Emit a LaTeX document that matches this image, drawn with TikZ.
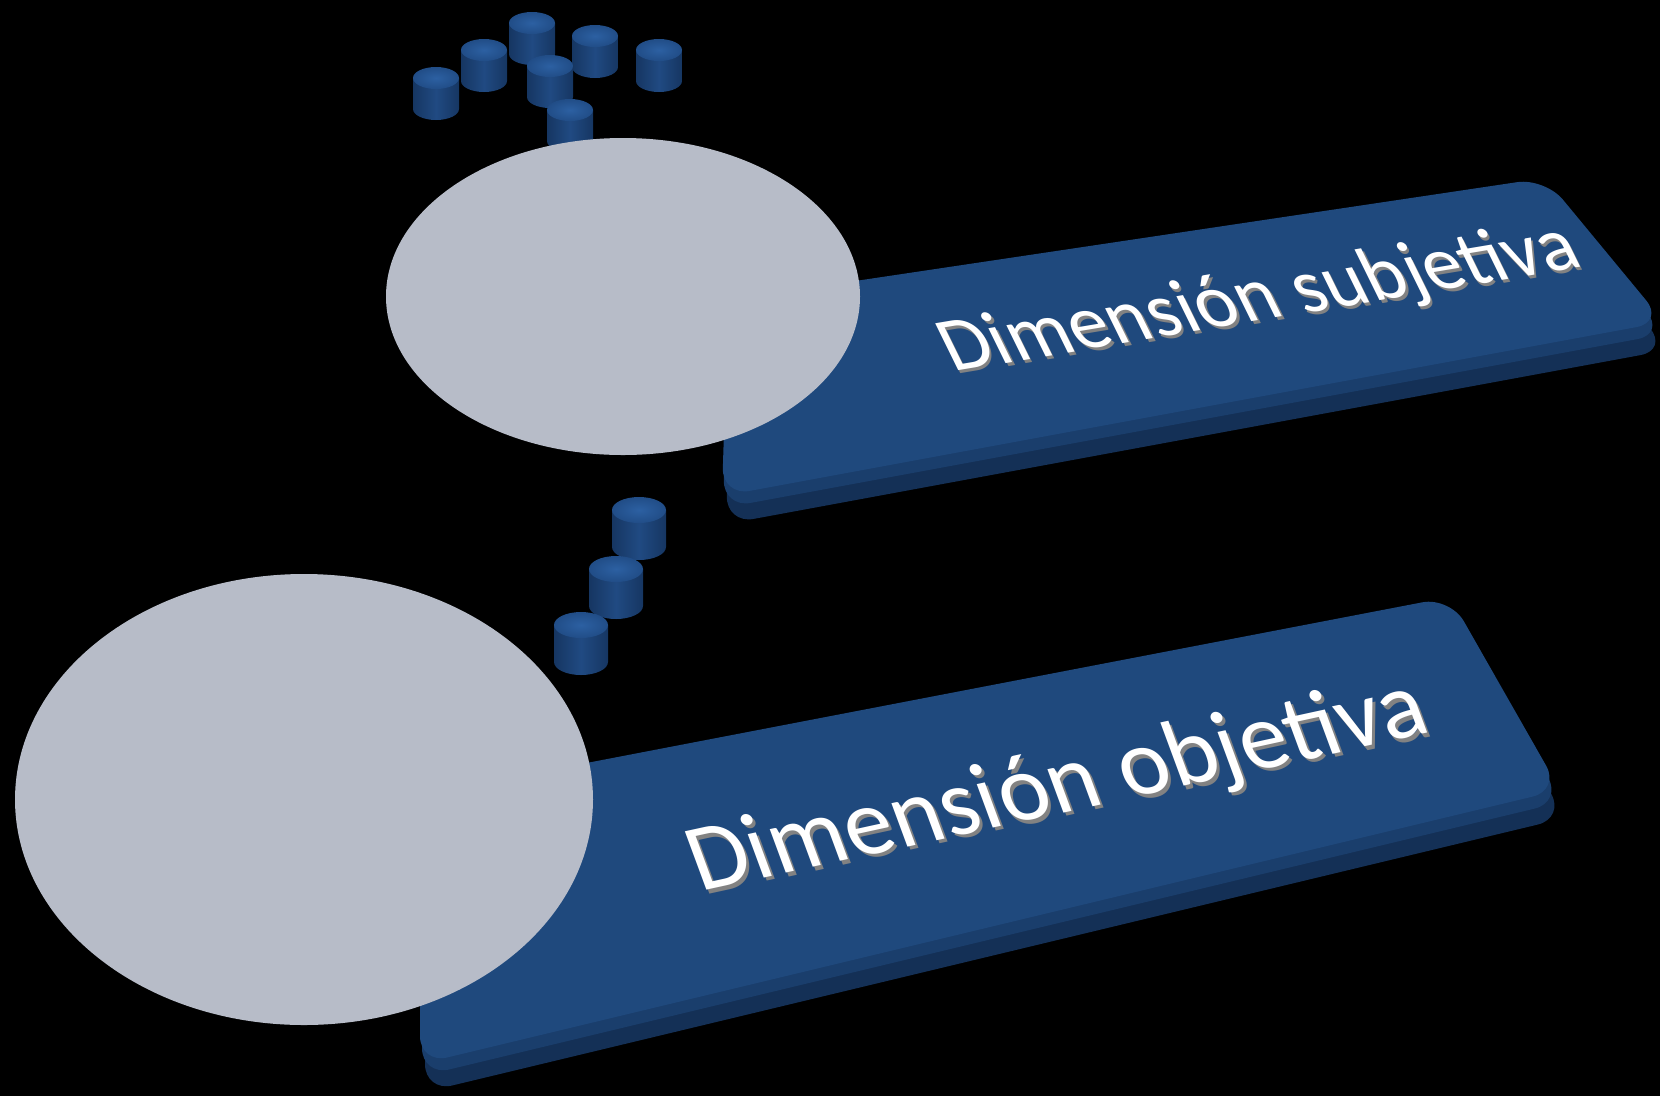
\documentclass[tikz,border=0pt]{standalone}
\usepackage{fontspec}
\setmainfont{Carlito}
\usetikzlibrary{shapes.geometric}
\definecolor{barface}{RGB}{31,73,125}
\definecolor{barmid}{RGB}{26,62,108}
\definecolor{barside}{RGB}{20,48,86}
\definecolor{ovalfill}{RGB}{183,188,200}
\definecolor{cyltopin}{RGB}{44,96,162}
\definecolor{cyltopout}{RGB}{33,77,135}
\definecolor{cylsidemid}{RGB}{32,74,130}
\definecolor{cylsideedge}{RGB}{22,54,98}
\definecolor{txtshadow}{RGB}{130,130,130}
\newcommand\drawcyl[5]{%
  \shade[left color=cylsideedge, right color=cylsideedge, middle color=cylsidemid] (#1-#3,#2+#4) -- ++(0,#5) arc[start angle=180,end angle=360,x radius=#3pt,y radius=#4pt] -- ++(0,-#5) -- cycle;
  \shade[inner color=cyltopin, outer color=cyltopout] (#1,#2+#4) ellipse[x radius=#3pt,y radius=#4pt];
}
\tikzset{
  oval/.style={ellipse, fill=ovalfill, inner sep=0pt},
  bartext/.style={anchor=base west, inner sep=0pt, text=white},
  barshadow/.style={anchor=base west, inner sep=0pt, text=txtshadow},
  barfill/.style={rounded corners=28pt}
}
\begin{document}
\begin{tikzpicture}[x=1pt,y=-1pt]
\useasboundingbox (0,0) rectangle (1660,1096);
\fill[black] (0,0) rectangle (1660,1096);
% top bar
\fill[barside,barfill] (732,328) -- (1549,206) -- (1668,350) -- (726,524) -- cycle;
\fill[barmid,barfill] (729,312) -- (1546,190) -- (1665,334) -- (723,508) -- cycle;
\fill[barface,barfill] (728,300) -- (1545,178) -- (1664,322) -- (722,496) -- cycle;
\node[barshadow, rotate=9.5, xslant=-0.3, font=\fontsize{78}{86}\selectfont] (tsubsh) at (955.5,375) {Dimensión subjetiva};
\node[bartext, rotate=9.5, xslant=-0.3, font=\fontsize{78}{86}\selectfont] (tsub) at (953,372) {Dimensión subjetiva};
% top cylinders
\drawcyl{532}{12}{23}{11}{31}
\drawcyl{595}{25}{23}{11}{31}
\drawcyl{484}{39}{23}{11}{31}
\drawcyl{659}{39}{23}{11}{31}
\drawcyl{550}{55}{23}{11}{31}
\drawcyl{436}{67}{23}{11}{31}
\drawcyl{570}{99}{23}{11}{31}
% top oval
\node[oval, minimum width=474pt, minimum height=317pt] (ov1) at (623,296.5) {};
% bottom cylinders
\drawcyl{639}{497}{27}{13}{37}
\drawcyl{616}{556}{27}{13}{37}
\drawcyl{581}{612}{27}{13}{37}
% bottom bar
\fill[barside,barfill] (425,823) -- (1455,625) -- (1565,818) -- (425,1092) -- cycle;
\fill[barmid,barfill] (422,807) -- (1452,609) -- (1562,802) -- (422,1076) -- cycle;
\fill[barface,barfill] (420,795) -- (1450,597) -- (1560,790) -- (420,1064) -- cycle;
\node[barshadow, rotate=12.3, xslant=-0.14, font=\fontsize{96}{104}\selectfont] (tobjsh) at (703,895.5) {Dimensión objetiva};
\node[bartext, rotate=12.3, xslant=-0.14, font=\fontsize{96}{104}\selectfont] (tobj) at (700,892) {Dimensión objetiva};
% bottom oval
\node[oval, minimum width=578pt, minimum height=451pt] (ov2) at (304,799.5) {};
\end{tikzpicture}
\end{document}
